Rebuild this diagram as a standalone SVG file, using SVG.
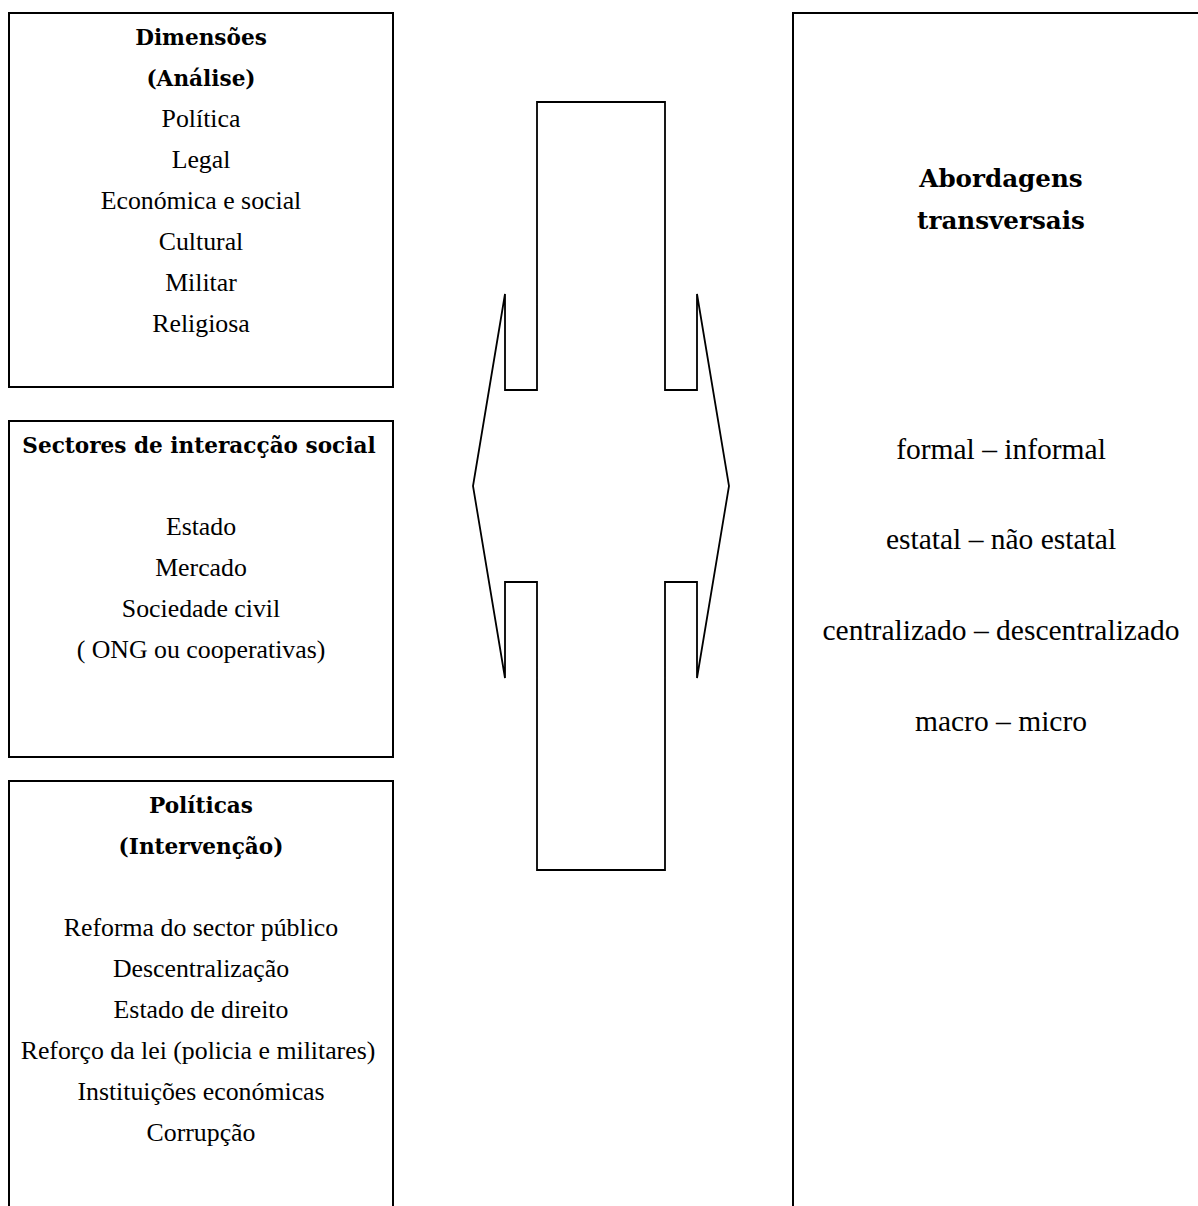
<svg xmlns="http://www.w3.org/2000/svg" width="1198" height="1206" viewBox="0 0 1198 1206">
<style>
.box{fill:#fff;stroke:#000;stroke-width:2}
.arrow{fill:none;stroke:#000;stroke-width:1.8;stroke-linejoin:miter}
text{font-family:"Liberation Serif","Times New Roman",serif;font-size:25.8px;fill:#000;text-anchor:middle}
.b{font-family:"DejaVu Serif",serif;font-weight:bold;font-size:21.6px}
.r{font-size:29.5px}
.rb{font-family:"DejaVu Serif",serif;font-weight:bold;font-size:24.6px}
</style>
<rect width="1198" height="1206" fill="#fff"/>
<g id="dimensoes">
<rect class="box" x="9" y="13" width="384" height="374"/>
<text class="b" x="201" y="45">Dimensões</text>
<text class="b" x="201" y="86">(Análise)</text>
<text x="201" y="127">Política</text>
<text x="201" y="168">Legal</text>
<text x="201" y="209">Económica e social</text>
<text x="201" y="250">Cultural</text>
<text x="201" y="291">Militar</text>
<text x="201" y="332">Religiosa</text>
</g>
<g id="sectores">
<rect class="box" x="9" y="421" width="384" height="336"/>
<text class="b" x="199" y="453">Sectores de interacção social</text>
<text x="201" y="535">Estado</text>
<text x="201" y="576">Mercado</text>
<text x="201" y="617">Sociedade civil</text>
<text x="201" y="658">( ONG ou cooperativas)</text>
</g>
<g id="politicas">
<rect class="box" x="9" y="781" width="384" height="440"/>
<text class="b" x="201" y="813">Políticas</text>
<text class="b" x="201" y="854">(Intervenção)</text>
<text x="201" y="936">Reforma do sector público</text>
<text x="201" y="977">Descentralização</text>
<text x="201" y="1018">Estado de direito</text>
<text x="198" y="1059">Reforço da lei (policia e militares)</text>
<text x="201" y="1100">Instituições económicas</text>
<text x="201" y="1141">Corrupção</text>
</g>
<g id="abordagens">
<rect class="box" x="793" y="13" width="430" height="1210"/>
<text class="rb" x="1001" y="187">Abordagens</text>
<text class="rb" x="1001" y="229">transversais</text>
<text class="r" x="1001" y="459">formal – informal</text>
<text class="r" x="1001" y="549">estatal – não estatal</text>
<text class="r" x="1001" y="640">centralizado – descentralizado</text>
<text class="r" x="1001" y="731">macro – micro</text>
</g>
<g id="connectors">
<path id="double-arrow" class="arrow" d="M505,294 L505,390 L537,390 L537,102 L665,102 L665,390 L697,390 L697,294 L729,486 L697,678 L697,582 L665,582 L665,870 L537,870 L537,582 L505,582 L505,678 L473,486 Z"/>
</g>
</svg>
